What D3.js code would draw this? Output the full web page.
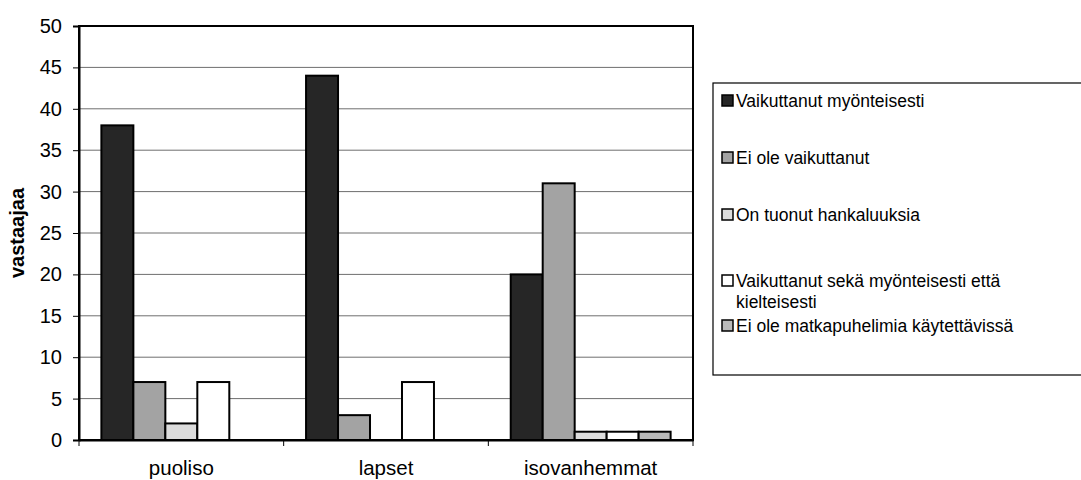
<!DOCTYPE html>
<html><head><meta charset="utf-8">
<script src="https://cdn.jsdelivr.net/npm/d3@7"></script>
<style>body{margin:0;background:#fff}svg{display:block;font-family:"Liberation Sans",Arial,sans-serif}</style>
</head><body><svg id="c" width="1081" height="480"></svg>
<script>
const categories = ["puoliso", "lapset", "isovanhemmat"];
const series = ["Vaikuttanut myönteisesti", "Ei ole vaikuttanut", "On tuonut hankaluuksia", "Vaikuttanut sekä myönteisesti että kielteisesti", "Ei ole matkapuhelimia käytettävissä"];
const values = [
  [38, 7, 2, 7, 0],
  [44, 3, 0, 7, 0],
  [20, 31, 1, 1, 1]
];
const yTicks = [0, 5, 10, 15, 20, 25, 30, 35, 40, 45, 50];
const fills = ["#262626", "#a3a3a3", "#dcdcdc", "#ffffff", "#b9b9b9"];

const svg = d3.select("#c");
const L = 79, R = 693, T = 26, B = 440;
const x = d3.scaleBand().domain(categories).range([L, R]).padding(0);
const xs = d3.scaleBand().domain(d3.range(series.length)).range([0, x.bandwidth()]).paddingInner(0).paddingOuter(0.7);
const y = d3.scaleLinear().domain([0, 50]).range([B, T]);

// gridlines
svg.append("g").selectAll("line").data(yTicks.filter(t => t > 0 && t < 50)).join("line")
  .attr("x1", L).attr("x2", R).attr("y1", d => y(d)).attr("y2", d => y(d))
  .attr("stroke", "#6e6e6e").attr("stroke-width", 1);

// frame
svg.append("rect").attr("x", L).attr("y", T).attr("width", R - L).attr("height", B - T)
  .attr("fill", "none").attr("stroke", "#000").attr("stroke-width", 2);

// bars
const g = svg.append("g");
categories.forEach((c, i) => {
  g.append("g").selectAll("rect").data(values[i].map((v, j) => ({v, j})).filter(d => d.v > 0)).join("rect")
    .attr("x", d => x(c) + xs(d.j))
    .attr("y", d => y(d.v))
    .attr("width", xs.bandwidth())
    .attr("height", d => y(0) - y(d.v))
    .attr("fill", d => fills[d.j])
    .attr("stroke", "#000").attr("stroke-width", 2);
});

// y axis
const ya = svg.append("g").attr("transform", `translate(${L},0)`)
  .call(d3.axisLeft(y).tickValues(yTicks).tickSize(6).tickPadding(11));
ya.select(".domain").attr("stroke", "#000").attr("stroke-width", 2);
ya.selectAll("text").style("font-size", "20px").attr("fill", "#000").style("font-family", "Liberation Sans, Arial, sans-serif");

// x axis
const xa = svg.append("g").attr("transform", `translate(0,${B})`)
  .call(d3.axisBottom(x).tickSize(0).tickPadding(20));
xa.select(".domain").attr("stroke", "#000").attr("stroke-width", 2);
xa.selectAll("text").style("font-size", "20.5px").attr("fill", "#000").style("font-family", "Liberation Sans, Arial, sans-serif");
// category boundary ticks
svg.append("g").selectAll("line").data(categories.map(c => x(c)).concat([R])).join("line")
  .attr("x1", d => d).attr("x2", d => d).attr("y1", B).attr("y2", B + 6)
  .attr("stroke", "#000").attr("stroke-width", 1);

// y title
svg.append("text").attr("transform", `translate(24,${(T + B) / 2}) rotate(-90)`)
  .attr("text-anchor", "middle").style("font-size", "20px").attr("font-weight", "bold").text("vastaajaa");

// legend
const lg = svg.append("g");
lg.append("rect").attr("x", 713).attr("y", 83).attr("width", 400).attr("height", 292)
  .attr("fill", "none").attr("stroke", "#000").attr("stroke-width", 1.2);
const legendRows = [
  {lines: [series[0]], y: 101},
  {lines: [series[1]], y: 158},
  {lines: [series[2]], y: 215},
  {lines: ["Vaikuttanut sekä myönteisesti että", "kielteisesti"], y: 281},
  {lines: [series[4]], y: 326}
];
legendRows.forEach((r, i) => {
  lg.append("rect").attr("x", 722).attr("y", r.y - 6).attr("width", 11).attr("height", 11)
    .attr("fill", fills[i]).attr("stroke", "#000").attr("stroke-width", 1.5);
  r.lines.forEach((t, k) => {
    lg.append("text").attr("x", 736).attr("y", r.y + k * 21).attr("dy", "0.35em")
      .style("font-size", "17.5px").attr("fill", "#000").text(t);
  });
});
</script></body></html>
